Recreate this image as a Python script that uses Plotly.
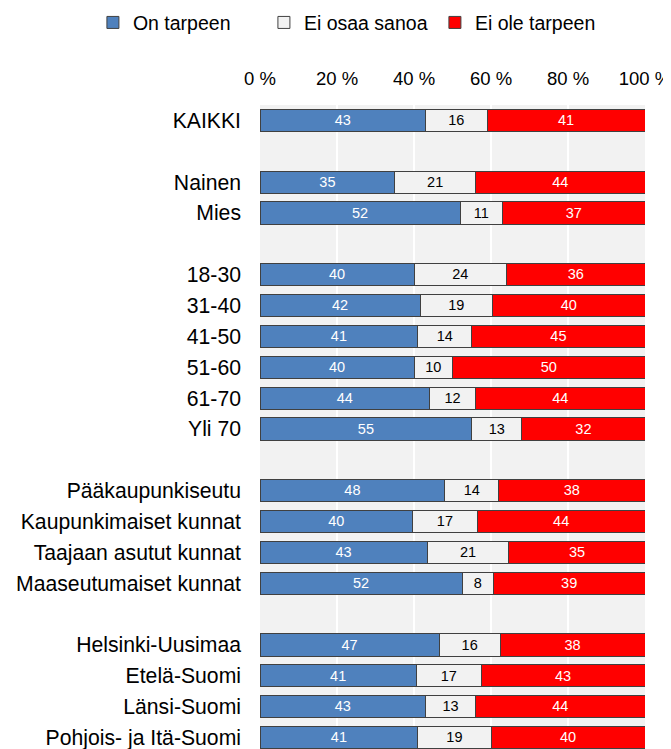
import plotly.graph_objects as go

categories = ["KAIKKI", "", "Nainen", "Mies", "", "18-30", "31-40", "41-50", "51-60",
              "61-70", "Yli 70", "", "Pääkaupunkiseutu", "Kaupunkimaiset kunnat",
              "Taajaan asutut kunnat", "Maaseutumaiset kunnat", "", "Helsinki-Uusimaa",
              "Etelä-Suomi", "Länsi-Suomi", "Pohjois- ja Itä-Suomi"]
on_tarpeen = [43, None, 35, 52, None, 40, 42, 41, 40, 44, 55, None, 48, 40, 43, 52, None, 47, 41, 43, 41]
ei_osaa = [16, None, 21, 11, None, 24, 19, 14, 10, 12, 13, None, 14, 17, 21, 8, None, 16, 17, 13, 19]
ei_ole = [41, None, 44, 37, None, 36, 40, 45, 50, 44, 32, None, 38, 44, 35, 39, None, 38, 43, 44, 40]
x_ticks = [0, 20, 40, 60, 80, 100]

ypos = list(range(len(categories)))
tickvals = [i for i, c in enumerate(categories) if c]
ticktext = [c for c in categories if c]

series = [
    ("On tarpeen", on_tarpeen, "#4F81BD", "white"),
    ("Ei osaa sanoa", ei_osaa, "#F2F2F2", "black"),
    ("Ei ole tarpeen", ei_ole, "#FF0000", "white"),
]

fig = go.Figure()
for name, vals, color, tcolor in series:
    fig.add_trace(go.Bar(
        y=ypos, x=vals, name=name, orientation="h",
        marker=dict(color=color, line=dict(color="#404040", width=1)),
        text=[str(v) if v is not None else "" for v in vals],
        textposition="inside", insidetextanchor="middle", textangle=0,
        insidetextfont=dict(color=tcolor, size=17, family="Liberation Sans"),
        width=0.72,
    ))

# page body adds an 8px margin, so the figure is 8px smaller
fig.update_layout(
    barmode="stack", barnorm="percent",
    width=663, height=741,
    margin=dict(l=252, r=26, t=97, b=0, autoexpand=False),
    paper_bgcolor="white", plot_bgcolor="#F2F2F2",
    font=dict(family="Liberation Sans", size=18, color="black"),
    legend=dict(orientation="h", xref="paper", yref="paper",
                x=-0.434, y=1.158, xanchor="left", yanchor="top",
                entrywidth=126, entrywidthmode="pixels",
                font=dict(size=19.5), traceorder="normal"),
    showlegend=True,
)
fig.update_xaxes(side="top", range=[0, 100], tickvals=x_ticks,
                 ticktext=[f"{t} %" for t in x_ticks],
                 showgrid=True, gridcolor="white", gridwidth=1.5,
                 zeroline=False, ticks="", ticklabelstandoff=15,
                 ticklabeloverflow="allow", tickfont=dict(size=18.5))
fig.update_yaxes(range=[20.37, -0.5], tickvals=tickvals, ticktext=ticktext,
                 showgrid=False, zeroline=False, ticks="", ticklabelstandoff=18,
                 ticklabeloverflow="allow", tickfont=dict(size=21.2))

fig.write_html("out.html")
